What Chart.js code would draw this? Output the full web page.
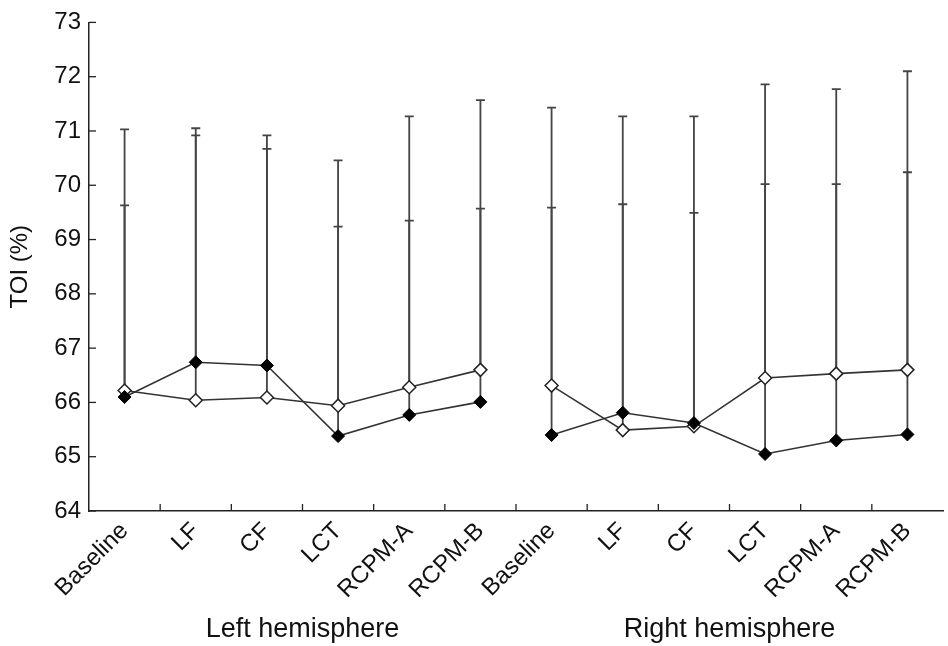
<!DOCTYPE html>
<html>
<head>
<meta charset="utf-8">
<script src="https://cdn.jsdelivr.net/npm/chart.js@4/dist/chart.umd.min.js"></script>
<style>
  html, body { margin: 0; padding: 0; background: #fff; overflow: hidden; }
  canvas { display: block; }
</style>
</head>
<body>
<canvas id="toiChart" width="951" height="646"></canvas>
<script>
// categories along the x axis (two hemispheres, six conditions each)
const categories = ['Baseline', 'LF', 'CF', 'LCT', 'RCPM-A', 'RCPM-B',
                    'Baseline', 'LF', 'CF', 'LCT', 'RCPM-A', 'RCPM-B'];
const groupLabels = ['Left hemisphere', 'Right hemisphere'];

// mean TOI (%) per group
const filledMeans = [66.10, 66.74, 66.68, 65.38, 65.77, 66.01,
                     65.40, 65.81, 65.62, 65.05, 65.30, 65.41];
const openMeans   = [66.22, 66.04, 66.09, 65.94, 66.28, 66.60,
                     66.31, 65.49, 65.56, 66.45, 66.53, 66.60];

// top of the (upper only) error bars
const filledTops = [71.03, 71.05, 70.92, 70.46, 71.27, 71.57,
                    71.43, 71.27, 71.27, 71.86, 71.77, 72.10];
const openTops   = [69.63, 70.92, 70.67, 69.24, 69.35, 69.57,
                    69.59, 69.65, 69.49, 70.02, 70.02, 70.24];

const yTicks = [64, 65, 66, 67, 68, 69, 70, 71, 72, 73];

const fontFamily = '"Liberation Sans", Arial, Helvetica, sans-serif';
const ink = '#222';

// no line between the last left point and the first right point
const breakSegment = {
    borderColor: ctx => ctx.p0DataIndex === 5 ? 'rgba(0,0,0,0)' : undefined
};

// upper error bars, drawn under the lines and markers
const errorBars = {
    id: 'errorBars',
    beforeDatasetsDraw(chart) {
        const { ctx, scales: { x, y } } = chart;
        ctx.save();
        ctx.strokeStyle = '#444';
        ctx.lineWidth = 1.8;
        [[filledMeans, filledTops], [openMeans, openTops]].forEach(([means, tops]) => {
            means.forEach((m, i) => {
                const px = x.getPixelForValue(i);
                const y0 = y.getPixelForValue(m);
                const y1 = y.getPixelForValue(tops[i]);
                ctx.beginPath();
                ctx.moveTo(px, y0);
                ctx.lineTo(px, y1);
                ctx.moveTo(px - 4.5, y1);
                ctx.lineTo(px + 4.5, y1);
                ctx.stroke();
            });
        });
        ctx.restore();
    }
};

// inward tick marks on both axes, plus the hemisphere captions
const axisDecor = {
    id: 'axisDecor',
    afterDraw(chart) {
        const { ctx, chartArea, scales: { x, y } } = chart;
        ctx.save();
        ctx.strokeStyle = ink;
        ctx.lineWidth = 1.3;
        yTicks.forEach(v => {
            const py = y.getPixelForValue(v);
            ctx.beginPath();
            ctx.moveTo(chartArea.left, py);
            ctx.lineTo(chartArea.left + 7, py);
            ctx.stroke();
        });
        for (let i = 1; i < categories.length; i++) {
            const px = (x.getPixelForValue(i - 1) + x.getPixelForValue(i)) / 2;
            ctx.beginPath();
            ctx.moveTo(px, chartArea.bottom);
            ctx.lineTo(px, chartArea.bottom - 7);
            ctx.stroke();
        }

        ctx.fillStyle = '#111';
        ctx.font = '27px ' + fontFamily;
        ctx.textAlign = 'center';
        ctx.textBaseline = 'alphabetic';
        ctx.fillText(groupLabels[0], x.getPixelForValue(2.5), 637);
        ctx.fillText(groupLabels[1], x.getPixelForValue(8.5), 637);
        ctx.restore();
    }
};

const chartCtx = document.getElementById('toiChart').getContext('2d');
const toiChart = new Chart(chartCtx, {
    type: 'line',
    data: {
        labels: categories,
        datasets: [
            {
                label: 'Filled',
                data: filledMeans,
                borderColor: '#333',
                borderWidth: 1.6,
                pointStyle: 'rectRot',
                pointRadius: 6.5,
                pointBackgroundColor: '#000',
                pointBorderColor: '#000',
                pointBorderWidth: 1,
                segment: breakSegment,
                tension: 0
            },
            {
                label: 'Open',
                data: openMeans,
                borderColor: '#333',
                borderWidth: 1.6,
                pointStyle: 'rectRot',
                pointRadius: 6.5,
                pointBackgroundColor: '#fff',
                pointBorderColor: '#222',
                pointBorderWidth: 1.5,
                segment: breakSegment,
                tension: 0
            }
        ]
    },
    options: {
        responsive: false,
        animation: false,
        layout: { padding: { top: 20, right: 0, bottom: 0, left: 0 } },
        plugins: {
            legend: { display: false },
            tooltip: { enabled: false }
        },
        scales: {
            x: {
                type: 'category',
                offset: true,
                grid: { display: false, drawTicks: false, offset: true },
                border: { display: true, color: ink, width: 1.5 },
                ticks: {
                    autoSkip: false,
                    maxRotation: 45,
                    minRotation: 45,
                    padding: 6,
                    color: '#111',
                    font: { family: fontFamily, size: 24 }
                },
                afterFit: scale => { scale.height = 135; }
            },
            y: {
                min: 64,
                max: 73,
                grid: { display: false, drawTicks: false },
                border: { display: true, color: ink, width: 1.5 },
                ticks: {
                    stepSize: 1,
                    padding: 8,
                    color: '#111',
                    font: { family: fontFamily, size: 24 }
                },
                title: {
                    display: true,
                    text: 'TOI (%)',
                    color: '#111',
                    font: { family: fontFamily, size: 24 },
                    padding: { top: 6, bottom: 4 }
                },
                afterFit: scale => { scale.width = 89; }
            }
        }
    },
    plugins: [errorBars, axisDecor]
});
</script>
</body>
</html>
